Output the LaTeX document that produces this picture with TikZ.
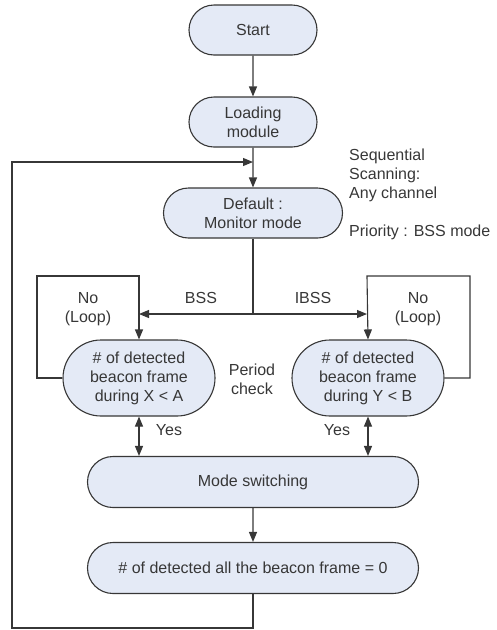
\documentclass[tikz,border=0pt]{standalone}
\usepackage{fontspec}
\setmainfont{Liberation Sans}
\usepackage{xcolor}
\usetikzlibrary{shapes.misc,arrows.meta}
\pgfdeclarelayer{edgelayer}
\pgfdeclarelayer{nodelayer}
\pgfsetlayers{edgelayer,nodelayer,main}
\definecolor{boxfill}{RGB}{228,234,246}
\definecolor{ink}{RGB}{55,55,55}
\tikzstyle{none}=[inner sep=0pt]
\tikzstyle{stadium}=[rounded rectangle,fill=boxfill,draw=ink,line width=1.1pt,inner sep=0pt,align=center,text=ink]
\tikzstyle{tag}=[inner sep=0pt,align=center,text=ink]
\tikzstyle{flow}=[-{Triangle[length=10pt,width=8pt]},draw=ink,line width=1.1pt]
\tikzstyle{twoway}=[{Triangle[length=10pt,width=8pt]}-{Triangle[length=10pt,width=8pt]},draw=ink,line width=1.1pt]
\tikzstyle{wire}=[-,draw=ink,line width=1.1pt]

\begin{document}
\begin{tikzpicture}[x=1pt,y=-1pt,font=\fontsize{16}{19}\selectfont]
	\useasboundingbox (0,0) rectangle (496,630);
	\begin{pgfonlayer}{nodelayer}
		\node [style=stadium, minimum width=128, minimum height=50] (start) at (253, 30) {Start};
		\node [style=stadium, minimum width=128, minimum height=50] (load) at (253, 122) {Loading\\module};
		\node [style=stadium, minimum width=179, minimum height=50] (monitor) at (253, 213) {Default :\\Monitor mode};
		\node [style=stadium, minimum width=152, minimum height=76] (bss) at (139, 378) {\# of detected\\beacon frame\\during X < A};
		\node [style=stadium, minimum width=152, minimum height=76] (ibss) at (368, 378) {\# of detected\\beacon frame\\during Y < B};
		\node [style=stadium, minimum width=331, minimum height=51] (switch) at (253, 482) {Mode switching};
		\node [style=stadium, minimum width=331, minimum height=51] (zero) at (253, 568) {\# of detected all the beacon frame = 0};
		\node [style=tag, anchor=west, align=left] (scan) at (349, 194) {Sequential\\Scanning:\\Any channel\\[19pt]Priority : BSS mode};
		\node [style=tag] (bsslabel) at (201, 298) {BSS};
		\node [style=tag] (ibsslabel) at (313, 298) {IBSS};
		\node [style=tag] (noleft) at (88, 309) {No\\(Loop)};
		\node [style=tag] (noright) at (418, 309) {No\\(Loop)};
		\node [style=tag] (period) at (252, 379) {Period\\check};
		\node [style=tag] (yesleft) at (169, 430) {Yes};
		\node [style=tag] (yesright) at (337, 430) {Yes};
		\coordinate (split) at (253, 314);
		\coordinate (BL) at (139, 314);
		\coordinate (BR) at (367, 314);
		\coordinate (LTL) at (37, 276);
		\coordinate (LTR) at (139, 276);
		\coordinate (LBL) at (37, 378);
		\coordinate (RTL) at (367, 276);
		\coordinate (RTR) at (470, 276);
		\coordinate (RBR) at (470, 378);
		\coordinate (back) at (253, 162);
		\coordinate (OBR) at (253, 628);
		\coordinate (OBL) at (12, 628);
		\coordinate (OTL) at (12, 162);
	\end{pgfonlayer}
	\begin{pgfonlayer}{edgelayer}
		\draw [style=flow] (start) to (load);
		\draw [style=flow] (load) to (monitor);
		\draw [style=wire] (monitor) to (split);
		\draw [style=flow] (split) to (BL);
		\draw [style=flow] (split) to (BR);
		\draw [style=flow] (bss.west) -- (LBL) -- (LTL) -- (LTR) -- (bss.north);
		\draw [style=flow] (ibss.east) -- (RBR) -- (RTR) -- (RTL) -- (ibss.north);
		\draw [style=twoway] (bss.south) to (bss.south |- switch.north);
		\draw [style=twoway] (ibss.south) to (ibss.south |- switch.north);
		\draw [style=flow] (switch) to (zero);
		\draw [style=flow] (zero.south) -- (OBR) -- (OBL) -- (OTL) -- (back);
	\end{pgfonlayer}
\end{tikzpicture}
\end{document}
